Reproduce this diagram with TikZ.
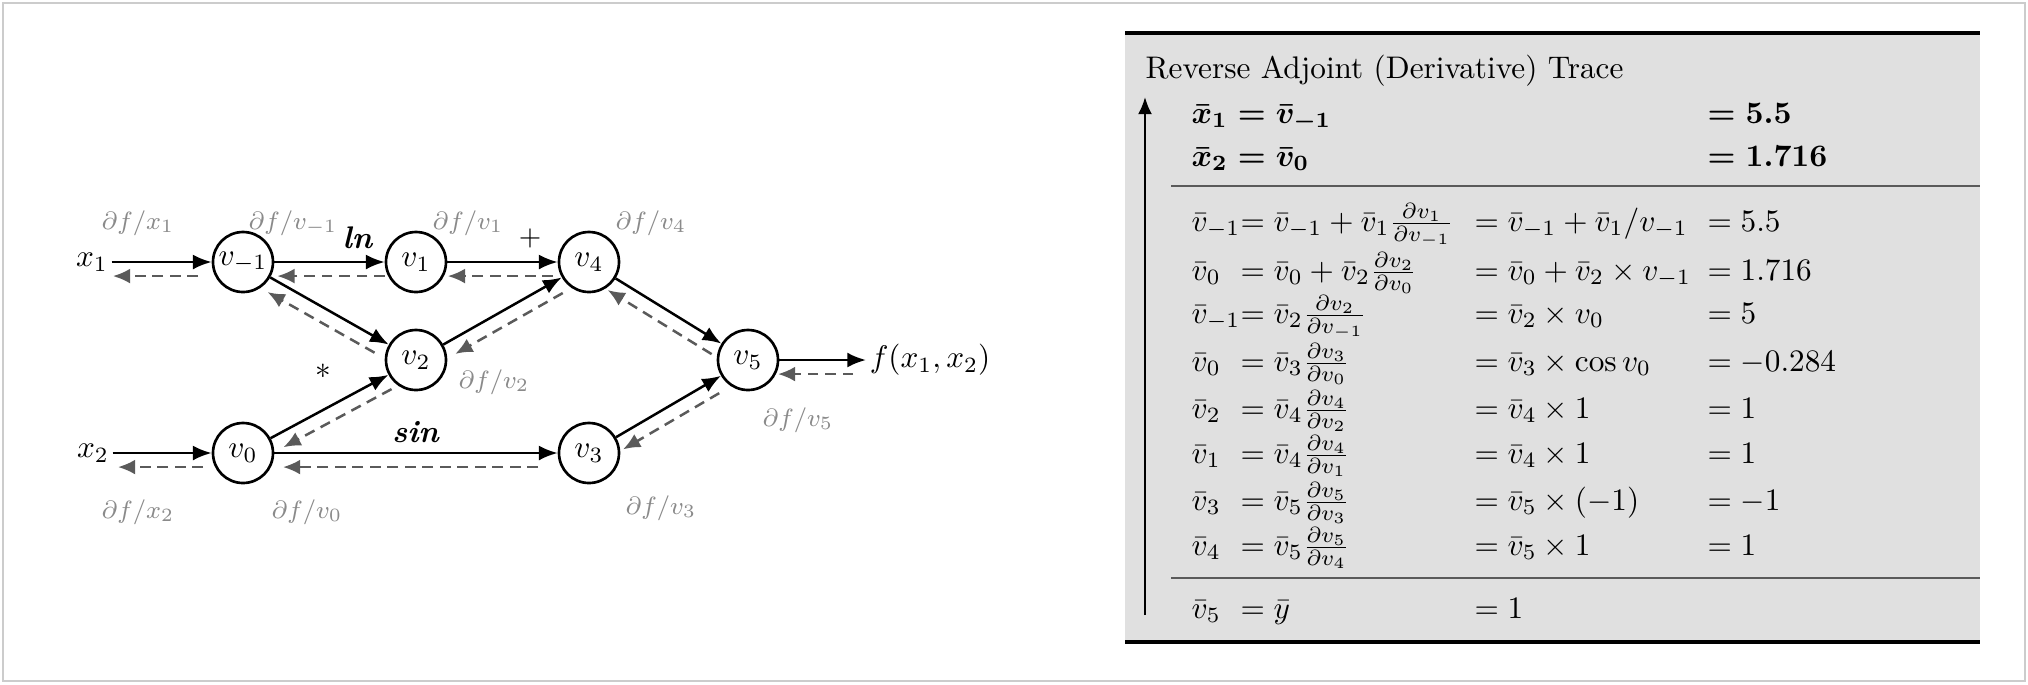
\documentclass[tikz,border=0pt]{standalone}
\usepackage{amsmath}
\usetikzlibrary{arrows.meta,calc}

\newcommand{\back}[4]{\draw[bwd,shorten <=#3,shorten >=#4] ($(#1)!4.5pt!90:(#2)$) -- ($(#2)!4.5pt!-90:(#1)$);}

\begin{document}
\begin{tikzpicture}[x=0.32pt,y=-0.32pt]
\definecolor{dashgray}{RGB}{90,90,90}
\definecolor{lblgray}{RGB}{138,138,138}
\definecolor{boxgray}{RGB}{224,224,224}
\tikzstyle{var} = [circle, draw, line width=0.85pt, minimum size=19.2pt, inner sep=0]
\tikzstyle{fwd} = [line width=0.8pt, -{Latex[length=6pt,width=4.8pt]}]
\tikzstyle{bwd} = [dashgray, line width=0.8pt, dash pattern=on 3.4pt off 2.2pt, -{Latex[length=5.5pt,width=4.8pt]}]
\tikzstyle{adj} = [lblgray, font=\fontsize{8.5}{10}\selectfont]
\tikzstyle{row} = [anchor=base west, inner sep=0]

\useasboundingbox (0,0) rectangle (2028,684);
\draw[gray!40, line width=0.6pt] (3,3) rectangle (2025,681);

% graph
\node[var] (vm1) at (243,262) {$v_{-1}$};
\node[var] (v1) at (416,262) {$v_1$};
\node[var] (v4) at (589,262) {$v_4$};
\node[var] (v2) at (416,360) {$v_2$};
\node[var] (v5) at (748,360) {$v_5$};
\node[var] (v0) at (243,453) {$v_0$};
\node[var] (v3) at (589,453) {$v_3$};
\node[inner sep=1pt] (x1) at (92,262) {$x_1$};
\node[inner sep=1pt] (x2) at (93,453) {$x_2$};
\node[anchor=west, inner sep=1pt] (f) at (866,360) {$f(x_1,x_2)$};

\draw[fwd] (x1) -- (vm1);
\draw[fwd] (vm1) -- (v1);
\draw[fwd] (v1) -- (v4);
\draw[fwd] (vm1) -- (v2);
\draw[fwd] (v2) -- (v4);
\draw[fwd] (x2) -- (v0);
\draw[fwd] (v0) -- (v2);
\draw[fwd] (v0) -- (v3);
\draw[fwd] (v4) -- (v5);
\draw[fwd] (v3) -- (v5);
\draw[fwd] (v5) -- (f);

\back{vm1}{x1}{14.4pt}{6.7pt}
\back{v1}{vm1}{10pt}{11pt}
\back{v4}{v1}{11.5pt}{10.2pt}
\back{v2}{vm1}{12.7pt}{11.6pt}
\back{v2}{v0}{11.3pt}{12.3pt}
\back{v4}{v2}{12.2pt}{11.9pt}
\back{v5}{v4}{10.9pt}{9.8pt}
\back{v5}{v3}{13.3pt}{10pt}
\back{v3}{v0}{16.3pt}{12.8pt}
\back{v0}{x2}{12.8pt}{8pt}
\back{f}{v5}{24.6pt}{9.6pt}

\node[adj] (dx1) at (138,223) {$\partial f/x_1$};
\node[adj] (dvm1) at (293,223) {$\partial f/v_{-1}$};
\node[adj] (dv1) at (468,223) {$\partial f/v_1$};
\node[adj] (dv4) at (651,223) {$\partial f/v_4$};
\node[adj] (dv2) at (494,382) {$\partial f/v_2$};
\node[adj] (dx2) at (138,512) {$\partial f/x_2$};
\node[adj] (dv0) at (307,512) {$\partial f/v_0$};
\node[adj] (dv3) at (661,508) {$\partial f/v_3$};
\node[adj] (dv5) at (798,420) {$\partial f/v_5$};

\node (opln) at (358,238) {\textbf{\textit{ln}}};
\node[font=\small] (opplus) at (530,238) {$+$};
\node (optimes) at (323,376) {*};
\node (opsin) at (416,432) {\textbf{\textit{sin}}};

% trace table
\fill[boxgray] (1125,33) rectangle (1980,642);
\draw[line width=1.3pt] (1125,33) -- (1980,33);
\draw[line width=1.3pt] (1125,642) -- (1980,642);
\draw[dashgray, line width=0.6pt] (1171,186) -- (1980,186);
\draw[dashgray, line width=0.6pt] (1171,578) -- (1980,578);
\coordinate (revlo) at (1145,615);
\coordinate (revhi) at (1145,97);
\draw[line width=0.7pt, -{Latex[length=5.5pt,width=4.5pt]}] (revlo) -- (revhi);

\node[row] (title) at (1145,78) {Reverse Adjoint (Derivative) Trace};

\node[row] (bx1) at (1191,123) {$\boldsymbol{\bar x_1 = \bar v_{-1}}$};
\node[row] (bn1) at (1707,123) {$\boldsymbol{= 5.5}$};
\node[row] (bx2) at (1191,166) {$\boldsymbol{\bar x_2 = \bar v_0}$};
\node[row] (bn2) at (1707,166) {$\boldsymbol{= 1.716}$};

\node[row] (l1) at (1191,231) {$\bar v_{-1}$};
\node[row] (r1) at (1240,231) {$= \bar v_{-1} + \bar v_1 \frac{\partial v_1}{\partial v_{-1}}$};
\node[row] (s1) at (1474,231) {$= \bar v_{-1} + \bar v_1 / v_{-1}$};
\node[row] (n1) at (1707,231) {$= 5.5$};

\node[row] (l2) at (1191,280) {$\bar v_0$};
\node[row] (r2) at (1240,280) {$= \bar v_0 + \bar v_2 \frac{\partial v_2}{\partial v_0}$};
\node[row] (s2) at (1474,280) {$= \bar v_0 + \bar v_2 \times v_{-1}$};
\node[row] (n2) at (1707,280) {$= 1.716$};

\node[row] (l3) at (1191,323) {$\bar v_{-1}$};
\node[row] (r3) at (1240,323) {$= \bar v_2 \frac{\partial v_2}{\partial v_{-1}}$};
\node[row] (s3) at (1474,323) {$= \bar v_2 \times v_0$};
\node[row] (n3) at (1707,323) {$= 5$};

\node[row] (l4) at (1191,371) {$\bar v_0$};
\node[row] (r4) at (1240,371) {$= \bar v_3 \frac{\partial v_3}{\partial v_0}$};
\node[row] (s4) at (1474,371) {$= \bar v_3 \times \cos v_0$};
\node[row] (n4) at (1707,371) {$= -0.284$};

\node[row] (l5) at (1191,418) {$\bar v_2$};
\node[row] (r5) at (1240,418) {$= \bar v_4 \frac{\partial v_4}{\partial v_2}$};
\node[row] (s5) at (1474,418) {$= \bar v_4 \times 1$};
\node[row] (n5) at (1707,418) {$= 1$};

\node[row] (l6) at (1191,463) {$\bar v_1$};
\node[row] (r6) at (1240,463) {$= \bar v_4 \frac{\partial v_4}{\partial v_1}$};
\node[row] (s6) at (1474,463) {$= \bar v_4 \times 1$};
\node[row] (n6) at (1707,463) {$= 1$};

\node[row] (l7) at (1191,510) {$\bar v_3$};
\node[row] (r7) at (1240,510) {$= \bar v_5 \frac{\partial v_5}{\partial v_3}$};
\node[row] (s7) at (1474,510) {$= \bar v_5 \times (-1)$};
\node[row] (n7) at (1707,510) {$= -1$};

\node[row] (l8) at (1191,555) {$\bar v_4$};
\node[row] (r8) at (1240,555) {$= \bar v_5 \frac{\partial v_5}{\partial v_4}$};
\node[row] (s8) at (1474,555) {$= \bar v_5 \times 1$};
\node[row] (n8) at (1707,555) {$= 1$};

\node[row] (l9) at (1191,618) {$\bar v_5$};
\node[row] (r9) at (1240,618) {$= \bar y$};
\node[row] (s9) at (1474,618) {$= 1$};

\end{tikzpicture}
\end{document}
